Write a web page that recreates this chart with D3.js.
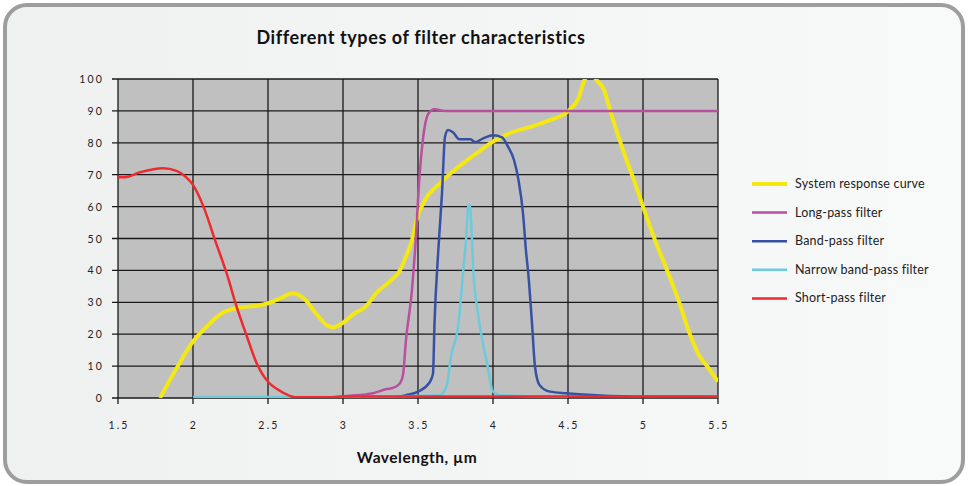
<!DOCTYPE html>
<html>
<head>
<meta charset="utf-8">
<script src="https://cdn.jsdelivr.net/npm/d3@7"></script>
<style>
	body { margin: 0; background: #fff; }
	svg text { font-family: Lato, "Open Sans", sans-serif; }
</style>
</head>
<body>
<div id="chart"></div>
<script>
// wavelength (um), transmission (%)
let systemResponse = [[1.78,0],[1.91,10.9],[2.0,17.7],[2.08,21.8],[2.19,26.5],[2.30,28.3],[2.42,28.9],[2.50,29.7],[2.58,31.2],[2.665,32.8],[2.75,30.7],[2.82,26.5],[2.89,22.9],[2.935,22.2],[3.0,23.6],[3.07,26.3],[3.15,28.6],[3.22,32.8],[3.31,36.5],[3.38,40.1],[3.41,43.3],[3.46,49.5],[3.49,55.8],[3.547,62.1],[3.647,67.3],[3.758,72.0],[3.89,76.7],[4.0,80.4],[4.11,83.0],[4.25,85.0],[4.38,87.1],[4.47,88.9],[4.51,90.3],[4.57,94.0],[4.61,99.7],[4.65,102],[4.69,99.7],[4.74,96.6],[4.78,90.3],[4.89,74.6],[4.94,68.3],[5.0,60],[5.08,49.5],[5.16,40.1],[5.24,30.2],[5.31,20.3],[5.38,12.9],[5.43,9.8],[5.5,5.1]];
let longPass = [[2.9,0],[3.02,0.6],[3.2,1.5],[3.29,2.8],[3.335,3.2],[3.38,4.6],[3.40,7.2],[3.42,18.2],[3.46,33.9],[3.48,46],[3.51,69.4],[3.535,81.9],[3.57,89.2],[3.61,90.5],[3.68,90.0],[4.0,90],[4.5,90],[5.0,90],[5.5,90]];
let bandPass = [[3.3,0],[3.42,0.9],[3.50,2.0],[3.58,5.1],[3.60,7.7],[3.61,23.4],[3.635,46],[3.66,64.2],[3.68,81.9],[3.70,84.0],[3.735,83.2],[3.775,81.1],[3.85,81.1],[3.88,80.2],[3.935,81.4],[4.0,82.4],[4.06,81.7],[4.10,78.8],[4.14,74.6],[4.17,68.3],[4.20,57.9],[4.22,46],[4.235,39.1],[4.26,23.4],[4.28,9.8],[4.31,4.1],[4.38,2.0],[4.49,1.5],[4.69,0.9],[5.0,0.4],[5.5,0.3]];
let narrowBandPass = [[2.0,0.3],[2.5,0.3],[3.0,0.3],[3.647,0.9],[3.69,3.6],[3.72,13.0],[3.77,23.4],[3.80,39.1],[3.82,49.5],[3.835,60.0],[3.845,60.5],[3.86,49.5],[3.87,39.1],[3.90,26.5],[3.96,10.9],[4.0,2.0],[4.05,0.9],[4.5,0.3]];
let shortPass = [[1.5,69.2],[1.547,69.2],[1.65,70.8],[1.80,72.0],[1.89,71.2],[1.95,69.4],[2.0,66.8],[2.07,60.0],[2.147,49.5],[2.235,37.5],[2.28,30.2],[2.36,19.2],[2.42,11.4],[2.50,5.1],[2.56,2.8],[2.65,0.6],[2.68,0.2],[2.9,0.2],[3.0,0.5],[4.0,0.5],[5.5,0.5]];

let seriesNames	= ["System response curve", "Long-pass filter", "Band-pass filter", "Narrow band-pass filter", "Short-pass filter"];
let seriesData	= [systemResponse, longPass, bandPass, narrowBandPass, shortPass];
let seriesColors	= ["#f4e814", "#b84f9f", "#3651a3", "#6ccadb", "#ee2a2e"];
let drawOrder	= [0, 1, 2, 3, 4];

let xTicks	= [1.5, 2, 2.5, 3, 3.5, 4, 4.5, 5, 5.5];
let yTicks	= [0, 10, 20, 30, 40, 50, 60, 70, 80, 90, 100];

let W = 969, H = 486;
let margin = { top: 79, right: 251, bottom: 88, left: 118 };
let width	= W - margin.left - margin.right;
let height	= H - margin.top - margin.bottom;

let svg = d3.select("#chart").append("svg")
	.attr("width", W)
	.attr("height", H);

let defs = svg.append("defs");
let grad = defs.append("linearGradient").attr("id", "bg").attr("x1", 0).attr("x2", 1).attr("y1", 0).attr("y2", 0);
grad.append("stop").attr("offset", 0).attr("stop-color", "#eff0f0");
grad.append("stop").attr("offset", 1).attr("stop-color", "#f8f9f9");
defs.append("clipPath").attr("id", "plotclip")
	.append("rect").attr("x", 0).attr("y", 0).attr("width", width).attr("height", height);

// frame
svg.append("rect")
	.attr("x", 5).attr("y", 5)
	.attr("width", W - 11).attr("height", H - 9)
	.attr("rx", 22).attr("ry", 22)
	.attr("fill", "url(#bg)")
	.attr("stroke", "#9d9d9d")
	.attr("stroke-width", 4);

svg.append("text")
	.attr("x", 421).attr("y", 44)
	.attr("text-anchor", "middle")
	.attr("font-size", 18)
	.attr("font-weight", "bold")
	.attr("letter-spacing", 0.6)
	.attr("fill", "#111")
	.text("Different types of filter characteristics");

let g = svg.append("g")
	.attr("transform", "translate(" + margin.left + "," + margin.top + ")");

let x = d3.scaleLinear().domain([1.5, 5.5]).range([0, width]);
let y = d3.scaleLinear().domain([0, 100]).range([height, 0]);

g.append("rect")
	.attr("width", width)
	.attr("height", height)
	.attr("fill", "#c0c0c0");

// grid
g.selectAll("line.hgrid")
	.data(yTicks)
	.enter().append("line")
	.attr("class", "hgrid")
	.attr("x1", -6).attr("x2", width)
	.attr("y1", (d) => y(d)).attr("y2", (d) => y(d))
	.attr("stroke", "#1a1a1a")
	.attr("stroke-width", 1.3);

g.selectAll("line.vgrid")
	.data(xTicks)
	.enter().append("line")
	.attr("class", "vgrid")
	.attr("x1", (d) => x(d)).attr("x2", (d) => x(d))
	.attr("y1", 0).attr("y2", height + 6)
	.attr("stroke", "#1a1a1a")
	.attr("stroke-width", 1.3);

// axis labels
g.selectAll("text.ylab")
	.data(yTicks)
	.enter().append("text")
	.attr("class", "ylab")
	.attr("x", -14)
	.attr("y", (d) => y(d) + 4)
	.attr("text-anchor", "end")
	.attr("font-family", "DejaVu Sans")
	.attr("font-size", 10.5)
	.attr("letter-spacing", 2.2)
	.attr("fill", "#222")
	.text((d) => d);

g.selectAll("text.xlab")
	.data(xTicks)
	.enter().append("text")
	.attr("class", "xlab")
	.attr("x", (d) => x(d) + 1)
	.attr("y", height + 31)
	.attr("text-anchor", "middle")
	.attr("font-family", "DejaVu Sans")
	.attr("font-size", 10.5)
	.attr("letter-spacing", 2.2)
	.attr("fill", "#222")
	.text((d) => d);

svg.append("text")
	.attr("x", 417).attr("y", 463)
	.attr("text-anchor", "middle")
	.attr("font-size", 15.5)
	.attr("font-weight", "bold")
	.attr("letter-spacing", 0.5)
	.attr("fill", "#111")
	.text("Wavelength, \u00b5m");

// curves
let line = d3.line()
	.x((d) => x(d[0]))
	.y((d) => y(d[1]))
	.curve(d3.curveMonotoneX);

let curves = g.append("g").attr("clip-path", "url(#plotclip)");
drawOrder.forEach((i) => {
	curves.append("path")
		.datum(seriesData[i])
		.attr("d", line)
		.attr("fill", "none")
		.attr("stroke", seriesColors[i])
		.attr("stroke-width", i == 0 ? 4 : 2.5)
		.attr("stroke-linejoin", "round");
});

// legend
let legend = svg.append("g").attr("transform", "translate(752,184)");
let rows = legend.selectAll("g.row")
	.data(seriesNames)
	.enter().append("g")
	.attr("class", "row")
	.attr("transform", (d, i) => "translate(0," + (i * 28.6) + ")");

rows.append("line")
	.attr("x1", 0).attr("x2", 35)
	.attr("y1", 0).attr("y2", 0)
	.attr("stroke", (d, i) => seriesColors[i])
	.attr("stroke-width", (d, i) => i == 0 ? 4 : 2.5);

rows.append("text")
	.attr("x", 43)
	.attr("y", 4)
	.attr("font-size", 12.5)
	.attr("letter-spacing", 0.2)
	.attr("fill", "#222")
	.text((d) => d);
</script>
</body>
</html>
